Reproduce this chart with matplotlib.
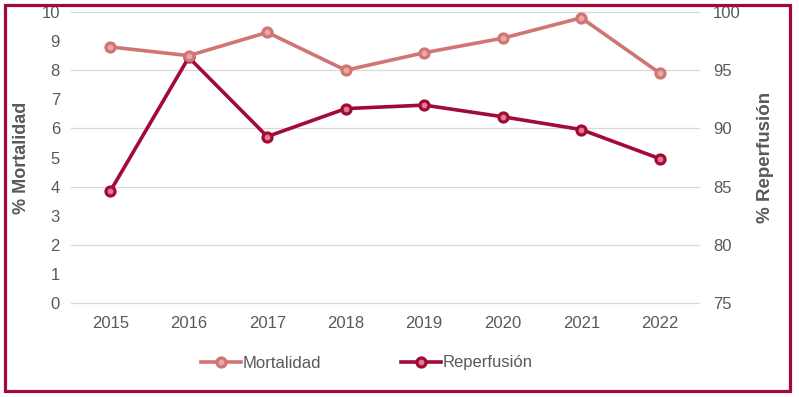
import matplotlib
matplotlib.use("Agg")
import matplotlib.pyplot as plt
from matplotlib.patches import Rectangle
from matplotlib.lines import Line2D

years = ["2015", "2016", "2017", "2018", "2019", "2020", "2021", "2022"]
mortalidad = [8.8, 8.5, 9.3, 8.0, 8.6, 9.1, 9.8, 7.9]
reperfusion = [84.6, 96.1, 89.3, 91.7, 92.0, 91.0, 89.9, 87.4]

MORT_COLOR = "#D07573"
REP_COLOR = "#A20B36"
TEXT_COLOR = "#595959"
GRID_COLOR = "#D9D9D9"

plt.rcParams["font.family"] = ["Liberation Sans", "DejaVu Sans"]

W, H = 799, 397
fig = plt.figure(figsize=(W / 100, H / 100), dpi=100)
ax = fig.add_axes([71 / W, 1 - 303 / H, 628 / W, 291 / H])
ax2 = ax.twinx()

x = list(range(len(years)))
ax.plot(x, mortalidad, color=MORT_COLOR, linewidth=2.6, marker="o", markersize=6.5,
        markerfacecolor="#E9A9A6", markeredgecolor=MORT_COLOR, markeredgewidth=2.3,
        zorder=3)
ax2.plot(x, reperfusion, color=REP_COLOR, linewidth=2.6, marker="o", markersize=6.5,
         markerfacecolor="#E07E90", markeredgecolor=REP_COLOR, markeredgewidth=2.3,
         zorder=3)
# mortalidad sits above reperfusion in the reference
ax.set_zorder(ax2.get_zorder() + 1)
ax.patch.set_visible(False)

ax.set_xlim(-0.5, len(years) - 0.5)
ax.set_ylim(0, 10)
ax.set_yticks(range(0, 11))
ax2.set_ylim(75, 100)
ax2.set_yticks(range(75, 101, 5))
ax.set_xticks(x)
ax.set_xticklabels(years)

for a in (ax, ax2):
    for s in a.spines.values():
        s.set_visible(False)
    a.tick_params(length=0, labelsize=12, labelcolor=TEXT_COLOR)
ax.tick_params(axis="y", pad=8)
ax.tick_params(axis="x", pad=9)
ax2.tick_params(axis="y", pad=10)
ax2.grid(axis="y", color=GRID_COLOR, linewidth=0.9, zorder=0)
ax2.set_axisbelow(True)
for gl in ax2.get_ygridlines():
    gl.set_clip_on(False)

ax.set_ylabel("% Mortalidad", fontsize=13, fontweight="bold", color=TEXT_COLOR,
              labelpad=8)
ax2.set_ylabel("% Reperfusión", fontsize=13.5, fontweight="bold", color=TEXT_COLOR,
               labelpad=12)

handles = [
    Line2D([], [], color=MORT_COLOR, linewidth=2.6, marker="o", markersize=6.5,
           markerfacecolor="#E9A9A6", markeredgecolor=MORT_COLOR, markeredgewidth=2.3),
    Line2D([], [], color=REP_COLOR, linewidth=2.6, marker="o", markersize=6.5,
           markerfacecolor="#E07E90", markeredgecolor=REP_COLOR, markeredgewidth=2.3),
]
fig.legend(handles, ["Mortalidad", "Reperfusión"], loc="center",
           bbox_to_anchor=(367 / W, 1 - 363 / H), ncol=2, frameon=False,
           fontsize=12, labelcolor=TEXT_COLOR, handlelength=2.4,
           handletextpad=0.1, columnspacing=4.8)

fig.patches.append(Rectangle((4.5 / W, 1 - 390.5 / H), 785 / W, 386 / H,
                             transform=fig.transFigure, fill=False,
                             edgecolor=REP_COLOR, linewidth=2.3))

fig.savefig("out.png", dpi=100)
